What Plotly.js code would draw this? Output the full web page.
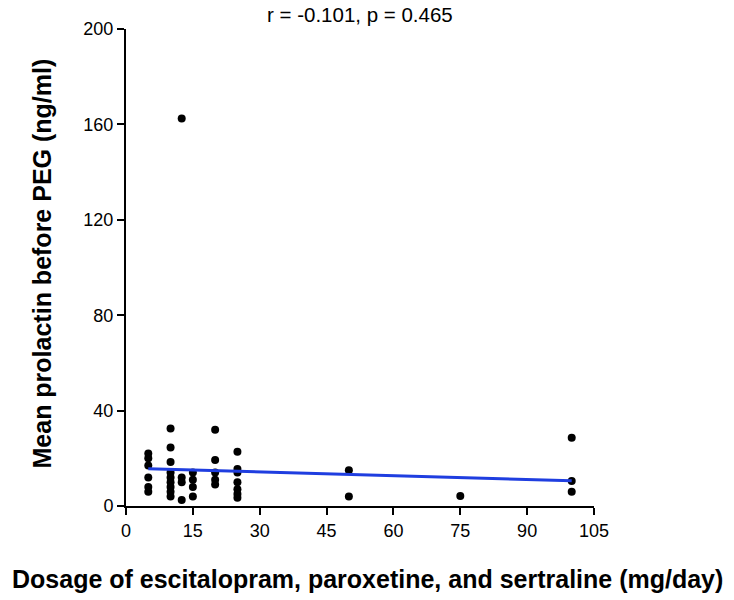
<!DOCTYPE html>
<html>
<head>
<meta charset="utf-8">
<script src="https://cdn.plot.ly/plotly-3.0.1.min.js"></script>
<style>html,body{margin:0;padding:0;background:#fff;}#chart{width:734px;height:600px;}</style>
</head>
<body>
<div id="chart"></div>
<script>
// Dosage (mg/day) for each patient
const dosage = [
  5,5,5,5,5,5,
  10,10,10,10,10,10,10,10,10,
  12.5,12.5,12.5,12.5,
  15,15,15,15,
  20,20,20,20,20,
  25,25,25,25,25,25,25,
  50,50,
  75,
  100,100,100
];
// Mean prolactin before PEG (ng/ml)
const prolactin = [
  22,20,17,12,8,6,
  32.5,24.5,18.5,14,12,10,8,6,4,
  162.5,12,10,2.5,
  14,11,8,4,
  32,19.3,14,11,9,
  22.7,15.5,14,10,7,5,3.5,
  15,4,
  4.2,
  28.6,10.5,6
];
// Regression line
const fitX = [5, 100];
const fitY = [15.6, 10.6];

const xTicks = [0,15,30,45,60,75,90,105];
const yTicks = [0,40,80,120,160,200];
const titleText = 'r = -0.101, p = 0.465';
const xTitle = 'Dosage of escitalopram, paroxetine, and sertraline (mg/day)';
const yTitle = 'Mean prolactin before PEG (ng/ml)';

const font = 'Liberation Sans, Arial, sans-serif';

const traces = [
  {x: dosage, y: prolactin, mode: 'markers', type: 'scatter',
   marker: {color: '#000', size: 8}, cliponaxis: false, hoverinfo: 'skip'},
  {x: fitX, y: fitY, mode: 'lines', type: 'scatter',
   line: {color: '#1f3ee0', width: 3}, hoverinfo: 'skip'}
];

const axisCommon = {
  showgrid: false, zeroline: false, showline: true, linecolor: '#000', linewidth: 2,
  ticks: 'outside', ticklen: 7, tickwidth: 2, tickcolor: '#000',
  tickfont: {family: font, size: 18, color: '#000'}
};

const layout = {
  width: 734, height: 600,
  margin: {l: 126, r: 140, t: 29, b: 94},
  paper_bgcolor: '#fff', plot_bgcolor: '#fff',
  showlegend: false,
  font: {family: font, color: '#000', size: 16},
  xaxis: Object.assign({range: [0, 105], tickvals: xTicks, ticktext: xTicks.map(String)}, axisCommon),
  yaxis: Object.assign({range: [0, 200], tickvals: yTicks, ticktext: yTicks.map(String)}, axisCommon),
  annotations: [
    {text: titleText, xref: 'paper', yref: 'paper', x: 0.5, y: 1, yanchor: 'middle', yshift: 15,
     showarrow: false, font: {family: font, size: 20.5, color: '#000'}},
    {text: '<b>' + xTitle + '</b>', xref: 'paper', yref: 'paper', x: 0.517, xanchor: 'center',
     y: 0, yanchor: 'middle', yshift: -73,
     showarrow: false, font: {family: font, size: 25, color: '#000'}},
    {text: '<b>' + yTitle + '</b>', xref: 'paper', yref: 'paper', x: 0, xanchor: 'center', xshift: -85,
     y: 0.5, yanchor: 'middle', yshift: 4,
     textangle: -90, showarrow: false, font: {family: font, size: 25, color: '#000'}}
  ]
};

Plotly.newPlot('chart', traces, layout, {displayModeBar: false, staticPlot: true});
</script>
</body>
</html>
